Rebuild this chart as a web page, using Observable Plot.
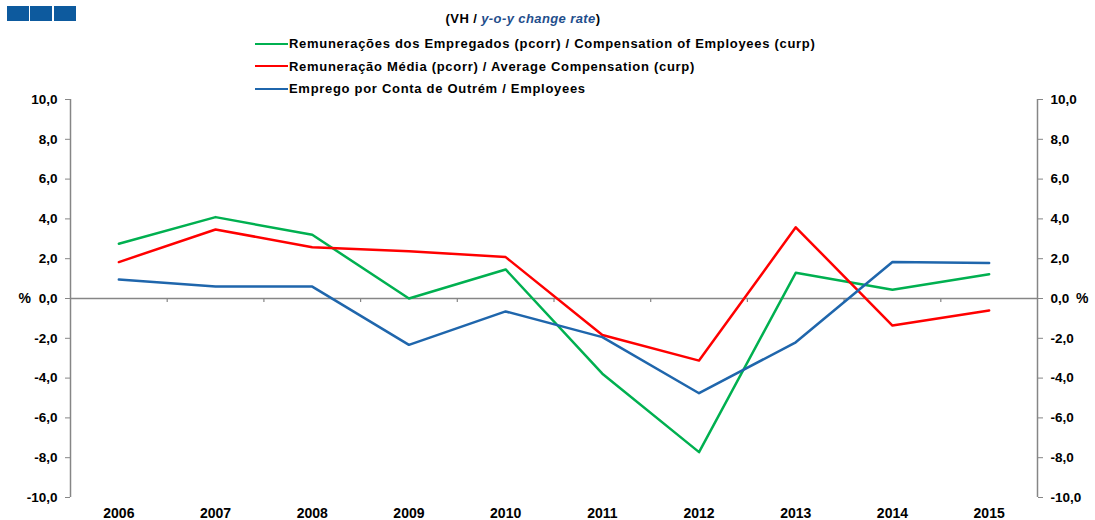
<!DOCTYPE html>
<html>
<head>
<meta charset="utf-8">
<script src="https://cdn.jsdelivr.net/npm/d3@7"></script>
<script src="https://cdn.jsdelivr.net/npm/@observablehq/plot@0.6"></script>
<style>
  body { margin: 0; background: #fff; font-family: "Liberation Sans", Arial, sans-serif; }
  #wrap { width: 1095px; }
  #head { position: relative; height: 92px; font-weight: bold; font-size: 13px; color: #000; }
  .logo { position: absolute; top: 6px; width: 22px; height: 15px; background: #0d5a9e; }
  #title { position: absolute; top: 11px; left: 0; width: 1046px; text-align: center; letter-spacing: 0.4px; }
  #title i { color: #1f4e8c; }
  .leg { position: absolute; left: 255px; display: flex; align-items: center; white-space: nowrap; letter-spacing: 0.7px; }
  .sw { width: 33px; height: 0; border-top: 2.5px solid; margin-right: 1px; }
</style>
</head>
<body>
<div id="wrap">
  <div id="head"></div>
  <div id="chart"></div>
</div>
<script>
const years = [2006, 2007, 2008, 2009, 2010, 2011, 2012, 2013, 2014, 2015];
const compensationEmployees = [2.75, 4.09, 3.2, 0.0, 1.46, -3.78, -7.72, 1.29, 0.44, 1.22];
const averageCompensation = [1.83, 3.47, 2.58, 2.38, 2.08, -1.83, -3.12, 3.58, -1.36, -0.6];
const employees = [0.95, 0.6, 0.6, -2.33, -0.65, -1.94, -4.76, -2.2, 1.83, 1.78];
const seriesNames = [
  "Remunerações dos Empregados (pcorr) / Compensation of Employees (curp)",
  "Remuneração Média (pcorr) / Average Compensation (curp)",
  "Emprego por Conta de Outrém / Employees"
];
const seriesColors = ["#00b050", "#ff0000", "#1f66ac"];
const yTicks = [-10, -8, -6, -4, -2, 0, 2, 4, 6, 8, 10];
const titleText = ["(VH / ", "y-o-y change rate", ")"];

// header: logo, title, legend
const head = document.getElementById("head");
[7, 30, 54].forEach(l => {
  const d = document.createElement("div");
  d.className = "logo"; d.style.left = l + "px"; head.appendChild(d);
});
const t = document.createElement("div");
t.id = "title";
t.innerHTML = titleText[0] + "<i>" + titleText[1] + "</i>" + titleText[2];
head.appendChild(t);
seriesNames.forEach((n, i) => {
  const r = document.createElement("div");
  r.className = "leg";
  r.style.top = (36 + i * 22.5) + "px";
  r.innerHTML = `<span class="sw" style="border-color:${seriesColors[i]}"></span><span>${n}</span>`;
  head.appendChild(r);
});

const data = [];
[compensationEmployees, averageCompensation, employees].forEach((arr, s) => {
  arr.forEach((v, i) => data.push({year: years[i], value: v, series: seriesNames[s]}));
});
const xDomain = [years[0] - 0.5, years[years.length - 1] + 0.5];
const boundaries = years.slice(1).map(y => y - 0.5);
const fmt = d => d.toFixed(1).replace(".", ",");
const gray = "#868686";

const chart = Plot.plot({
  width: 1095,
  height: 428,
  marginTop: 7,
  marginBottom: 23,
  marginLeft: 70,
  marginRight: 58,
  style: {fontFamily: "'Liberation Sans', Arial, sans-serif", fontWeight: "bold", background: "#fff"},
  x: {type: "linear", domain: xDomain},
  y: {domain: [-10, 10]},
  color: {domain: seriesNames, range: seriesColors},
  marks: [
    Plot.ruleY([0], {stroke: gray, strokeWidth: 1.5}),
    Plot.ruleX(boundaries, {y1: 0, y2: -0.2, stroke: gray, strokeWidth: 1.2}),
    Plot.ruleX(xDomain, {stroke: gray, strokeWidth: 1.5}),
    Plot.axisY({anchor: "left", ticks: yTicks, tickFormat: fmt, tickSize: 5, tickPadding: 8, stroke: gray, fill: "#000", fontSize: 13.5, label: null, style: {letterSpacing: "1.3px"}}),
    Plot.axisY({anchor: "right", ticks: yTicks, tickFormat: fmt, tickSize: 5, tickPadding: 8, stroke: gray, fill: "#000", fontSize: 13.5, label: null, style: {letterSpacing: "1.3px"}}),
    Plot.axisX({anchor: "bottom", ticks: years, tickFormat: d => String(d), tickSize: 0, tickPadding: 11, fill: "#000", fontSize: 14, label: null, style: {letterSpacing: "0.5px"}}),
    Plot.text(["%"], {y: [0], frameAnchor: "left", dx: -52, fontSize: 14, fill: "#000"}),
    Plot.text(["%"], {y: [0], frameAnchor: "right", dx: 51, fontSize: 14, fill: "#000"}),
    Plot.line(data, {x: "year", y: "value", z: "series", stroke: "series", strokeWidth: 2.5})
  ]
});
document.getElementById("chart").appendChild(chart);
</script>
</body>
</html>
